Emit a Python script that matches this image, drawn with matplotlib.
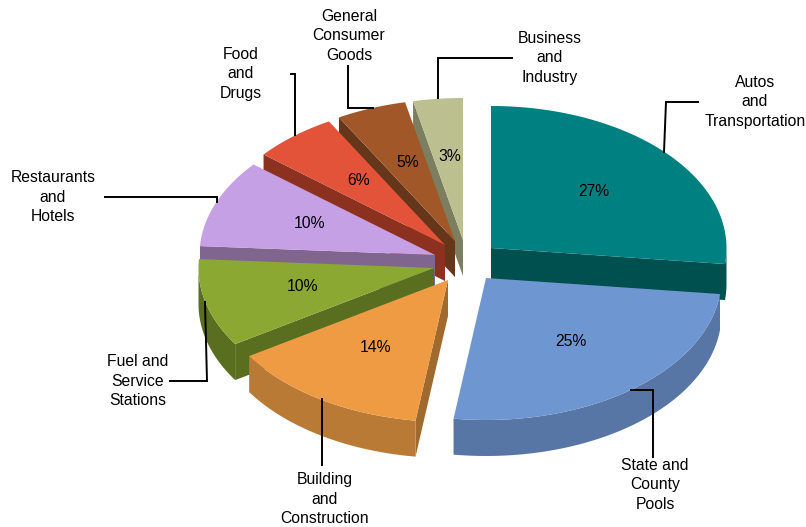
import numpy as np
import matplotlib
matplotlib.use("Agg")
import matplotlib.pyplot as plt
from matplotlib.patches import Polygon

plt.rcParams['font.family'] = ['Liberation Sans', 'DejaVu Sans']

categories = ["Autos\nand\nTransportation", "State and\nCounty\nPools", "Building\nand\nConstruction",
              "Fuel and\nService\nStations", "Restaurants\nand\nHotels", "Food\nand\nDrugs",
              "General\nConsumer\nGoods", "Business\nand\nIndustry"]
shares = [26.8, 25.4, 13.8, 10, 10, 5.8, 4.8, 3.4]
top_colors = ["#008080", "#6E96D0", "#EF9B44", "#8BA832", "#C6A0E4", "#E2533A", "#A15728", "#BCC090"]
outer_colors = ["#00504F", "#5775A5", "#B97A35", "#5A6E20", "#80668F", "#8C3020", "#66361A", "#7B7F60"]
apex = [(491, 248), (486, 278), (448, 280), (434, 268), (435, 255), (445, 245), (455, 241), (463, 240)]
label_pos = [(755, 102), (655, 485), (325, 499), (138, 381), (53, 197), (241, 74), (349, 36), (550, 58)]
leaders = [[(664, 152), (666, 102), (698, 102)],
           [(631, 390), (653, 390), (653, 457)],
           [(322, 399), (322, 465)],
           [(205, 302), (207, 381), (170, 381)],
           [(105, 197), (217, 197), (217, 202)],
           [(295, 135), (295, 74), (291, 74)],
           [(373, 108), (348, 108), (348, 66)],
           [(438, 98), (438, 58), (512, 58)]]
RX, RY, DEPTH = 235.5, 142, 36

fig = plt.figure(figsize=(8.06, 5.27), dpi=100)
ax = fig.add_axes([0, 0, 1, 1])
ax.set_xlim(0, 806); ax.set_ylim(527, 0); ax.axis('off')

edges = np.cumsum([0] + shares) / sum(shares) * 2 * np.pi

def pt(a, t, f=1.0, dy=0):
    return (a[0] + RX * f * np.sin(t), a[1] - RY * f * np.cos(t) + dy)

def draw(i, z):
    a, t0, t1 = apex[i], edges[i], edges[i + 1]
    ts = np.linspace(t0, t1, 80)
    if i >= 3:
        face = [a, pt(a, t0), pt(a, t0, dy=DEPTH), (a[0], a[1] + DEPTH)]
        ax.add_patch(Polygon(face, fc=outer_colors[i], ec='none', zorder=z))
    if i == 2:
        face = [a, pt(a, t0), pt(a, t0, dy=DEPTH), (a[0], a[1] + DEPTH)]
        ax.add_patch(Polygon(face, fc="#A06A2E", ec='none', zorder=z))
    if i == 0:
        face = [a, pt(a, t1), pt(a, t1, dy=DEPTH), (a[0], a[1] + DEPTH)]
        ax.add_patch(Polygon(face, fc=outer_colors[i], ec='none', zorder=z))
    lo, hi = max(t0, np.pi / 2), min(t1, 3 * np.pi / 2)
    if hi > lo:
        tw = np.linspace(lo, hi, 60)
        upper = [pt(a, t) for t in tw]
        lower = [pt(a, t, dy=DEPTH) for t in tw[::-1]]
        ax.add_patch(Polygon(upper + lower, fc=outer_colors[i], ec='none', zorder=z + 0.1))
    ax.add_patch(Polygon([a] + [pt(a, t) for t in ts], fc=top_colors[i], ec='none', zorder=z + 0.2))
    mid = (t0 + t1) / 2
    x, y = pt(a, mid, 0.58)
    ax.text(x + 1, y - 1.5, f"{round(shares[i])}%", ha='center', va='center', fontsize=11.3, color='black', zorder=20)

for z, i in enumerate([7, 6, 5, 4, 3, 0, 2, 1]):
    draw(i, z + 1)

for line in leaders:
    xs, ys = zip(*line)
    ax.plot(xs, ys, color='black', lw=1.4, zorder=15, solid_joinstyle='miter')
for name, (x, y) in zip(categories, label_pos):
    ax.text(x, y, name, ha='center', va='center', fontsize=11.3, linespacing=1.41, color='black', zorder=20)

fig.savefig("out.png", dpi=100)
